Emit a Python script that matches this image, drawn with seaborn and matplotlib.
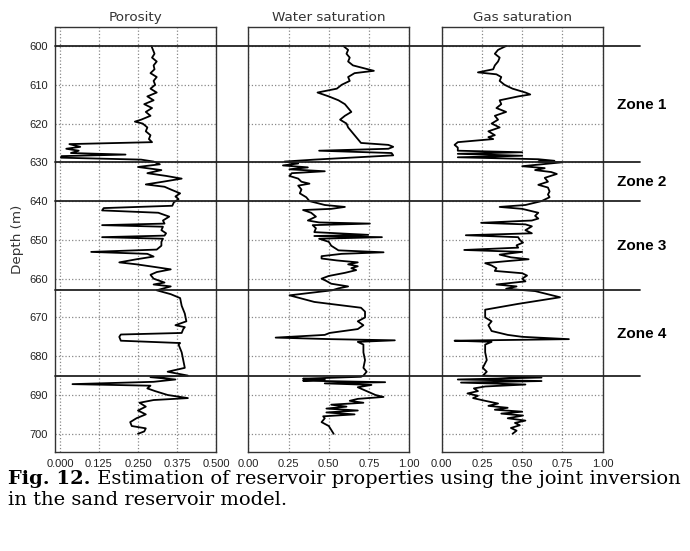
import matplotlib
matplotlib.use("Agg")
import matplotlib.pyplot as plt
import matplotlib.transforms as mtransforms
from matplotlib.lines import Line2D
import numpy as np
import pandas as pd
import seaborn as sns

# porosity log
por_depth = [600, 601, 602, 603, 604, 605, 606, 607, 608, 609, 610, 611, 612, 613, 614, 615, 616, 617, 618, 619,
             619.5, 620, 621, 622, 623, 624, 624.8, 625.3, 626, 626.5, 627, 627.6, 628, 628.4, 628.8, 629.3, 629.8,
             630.5, 631.2, 632, 632.8, 633.5, 634.2, 635, 635.7, 636.3, 637, 638, 638.8, 639.5, 640.3, 641.2, 641.8,
             642.4, 643, 644, 645, 645.8, 646.2, 646.6, 647.5, 648.3, 648.9, 649.3, 649.7, 650.5, 651.5, 652.5,
             653.1, 653.6, 654.3, 655, 655.8, 656.3, 657, 657.6, 658.3, 659, 660, 661, 661.5, 662, 663, 664, 665,
             667, 669, 671, 672, 672.5, 673, 674, 674.4, 675, 676, 676.6, 677, 679, 681, 683, 684, 685, 685.4, 686,
             686.6, 687.2, 687.6, 688.3, 689, 690, 690.8, 691.3, 692, 693, 694, 695, 696, 697, 698, 698.6, 699.4, 700]
por_vals = [0.293, 0.298, 0.303, 0.295, 0.31, 0.30, 0.303, 0.29, 0.31, 0.30, 0.305, 0.29, 0.31, 0.28, 0.30, 0.27,
            0.295, 0.275, 0.29, 0.26, 0.24, 0.265, 0.28, 0.275, 0.29, 0.285, 0.295, 0.03, 0.065, 0.02, 0.06, 0.035,
            0.21, 0.005, 0.003, 0.26, 0.30, 0.32, 0.25, 0.325, 0.28, 0.34, 0.39, 0.33, 0.275, 0.335, 0.355, 0.385,
            0.37, 0.38, 0.365, 0.36, 0.14, 0.135, 0.315, 0.35, 0.33, 0.335, 0.135, 0.33, 0.325, 0.34, 0.335, 0.135,
            0.33, 0.325, 0.325, 0.31, 0.10, 0.28, 0.30, 0.245, 0.19, 0.245, 0.305, 0.355, 0.31, 0.29, 0.30, 0.335,
            0.30, 0.355, 0.31, 0.355, 0.385, 0.39, 0.40, 0.405, 0.37, 0.40, 0.395, 0.39, 0.195, 0.19, 0.195, 0.385,
            0.38, 0.39, 0.395, 0.40, 0.345, 0.41, 0.29, 0.37, 0.30, 0.04, 0.29, 0.28, 0.305, 0.345, 0.41, 0.30,
            0.255, 0.275, 0.25, 0.275, 0.245, 0.225, 0.23, 0.275, 0.27, 0.25]

# water saturation log
sw_depth = [600, 601, 602, 603, 604, 605, 606.4, 607, 608, 609, 610, 611, 612, 613, 614, 615, 616, 617, 618, 619,
            620, 621, 622, 623, 624, 625, 625.5, 626, 626.5, 627, 627.6, 628.2, 629.3, 629.8, 630.3, 630.8, 631.3,
            631.8, 632.3, 632.8, 633.5, 634.2, 635, 635.5, 636, 637, 638, 639, 640, 641, 641.5, 642, 642.3, 643,
            644, 645, 645.5, 645.8, 646.2, 647, 648, 648.7, 649, 649.3, 649.7, 650.5, 651.5, 652.7, 653.2, 653.6,
            654.2, 654.8, 655.3, 655.8, 656.3, 656.8, 657.3, 657.8, 658.5, 659.3, 660, 660.6, 661.3, 662, 662.5,
            663, 664.3, 666, 667.5, 668.5, 670, 671, 672, 673, 674, 674.5, 675.2, 675.6, 675.9, 676.3, 677, 679,
            681, 683, 684, 685, 685.3, 685.8, 686, 686.3, 686.7, 687, 687.4, 688, 689, 690, 690.5, 691, 691.5,
            692, 692.5, 693, 693.5, 694, 694.5, 695, 695.5, 696, 697, 698, 699, 700]
sw_vals = [0.59, 0.62, 0.61, 0.63, 0.62, 0.65, 0.78, 0.66, 0.62, 0.63, 0.58, 0.55, 0.43, 0.50, 0.56, 0.60, 0.62,
           0.64, 0.60, 0.57, 0.61, 0.62, 0.64, 0.66, 0.68, 0.70, 0.87, 0.90, 0.87, 0.44, 0.89, 0.90, 0.41, 0.225,
           0.31, 0.215, 0.37, 0.255, 0.475, 0.27, 0.255, 0.31, 0.33, 0.38, 0.31, 0.33, 0.32, 0.36, 0.38, 0.475,
           0.60, 0.515, 0.34, 0.39, 0.42, 0.37, 0.44, 0.755, 0.40, 0.42, 0.41, 0.745, 0.41, 0.83, 0.44, 0.50,
           0.515, 0.56, 0.84, 0.58, 0.455, 0.455, 0.55, 0.68, 0.62, 0.68, 0.64, 0.67, 0.60, 0.50, 0.455, 0.485,
           0.515, 0.62, 0.56, 0.52, 0.256, 0.41, 0.70, 0.725, 0.725, 0.68, 0.715, 0.68, 0.505, 0.475, 0.17, 0.515,
           0.91, 0.68, 0.715, 0.715, 0.725, 0.715, 0.735, 0.715, 0.70, 0.34, 0.475, 0.34, 0.85, 0.475, 0.765, 0.68,
           0.735, 0.79, 0.84, 0.68, 0.63, 0.715, 0.515, 0.61, 0.485, 0.68, 0.485, 0.66, 0.465, 0.475, 0.455, 0.50,
           0.515, 0.53]

# gas saturation log
sg_depth = [600, 601, 602, 603, 604, 605, 606, 606.8, 607.3, 608, 609, 610, 611, 612, 612.5, 613, 614, 615, 616,
            617, 618, 619, 620, 621, 622, 623, 623.5, 624, 624.8, 625.5, 626.2, 627, 627.4, 627.8, 628.3, 628.7,
            629.2, 629.6, 629.8, 630, 630.5, 631, 631.5, 632, 632.5, 633, 634, 635, 635.8, 636.5, 637.5, 638.3,
            639, 640, 641, 641.5, 642, 642.5, 643, 643.8, 644.5, 645, 645.6, 646, 646.5, 647.5, 648.3, 648.8,
            649.3, 650, 650.7, 651.4, 652, 652.6, 653.1, 653.8, 654.5, 655, 655.5, 656, 656.6, 657.3, 658, 658.6,
            659.2, 660, 660.7, 661.5, 662, 662.6, 663.2, 664.8, 666.5, 668, 670, 671, 672, 673.5, 674.5, 675,
            675.6, 676, 676.3, 677, 679, 681, 683, 684, 685, 685.5, 686, 686.4, 686.8, 687.3, 687.8, 688.3, 689,
            689.6, 690.2, 690.8, 691.5, 692.2, 692.8, 693.3, 693.8, 694.3, 694.8, 695.3, 696, 696.6, 697.2, 697.8,
            698.5, 699.2, 700]
sg_vals = [0.40, 0.35, 0.33, 0.36, 0.35, 0.33, 0.32, 0.225, 0.34, 0.37, 0.36, 0.39, 0.44, 0.52, 0.55, 0.475, 0.36,
           0.37, 0.34, 0.40, 0.33, 0.35, 0.31, 0.36, 0.29, 0.33, 0.29, 0.32, 0.10, 0.08, 0.10, 0.10, 0.50, 0.10,
           0.50, 0.10, 0.60, 0.70, 0.60, 0.745, 0.62, 0.50, 0.64, 0.58, 0.68, 0.715, 0.64, 0.66, 0.60, 0.66, 0.67,
           0.66, 0.67, 0.62, 0.52, 0.36, 0.50, 0.55, 0.60, 0.58, 0.60, 0.56, 0.245, 0.52, 0.56, 0.52, 0.56, 0.15,
           0.475, 0.485, 0.505, 0.465, 0.475, 0.14, 0.50, 0.36, 0.43, 0.54, 0.40, 0.27, 0.31, 0.34, 0.33, 0.50,
           0.53, 0.50, 0.52, 0.34, 0.465, 0.40, 0.58, 0.735, 0.475, 0.27, 0.27, 0.31, 0.29, 0.31, 0.41, 0.50, 0.79,
           0.08, 0.31, 0.27, 0.27, 0.28, 0.255, 0.28, 0.255, 0.62, 0.10, 0.62, 0.12, 0.52, 0.27, 0.20, 0.225,
           0.16, 0.225, 0.195, 0.27, 0.35, 0.29, 0.41, 0.33, 0.50, 0.37, 0.505, 0.41, 0.52, 0.455, 0.485, 0.43,
           0.465, 0.44]

zone_tops = [600, 630, 640, 663, 685]
zone_names = ["Zone 1", "Zone 2", "Zone 3", "Zone 4"]
zone_label_depths = [615.2, 635.1, 651.6, 674.3]

panels = [
    ("Porosity", por_depth, por_vals, (-0.016, 0.5), [0, 0.125, 0.25, 0.375, 0.5], "{:.3f}"),
    ("Water saturation", sw_depth, sw_vals, (0, 1), [0, 0.25, 0.5, 0.75, 1.0], "{:.2f}"),
    ("Gas saturation", sg_depth, sg_vals, (0, 1), [0, 0.25, 0.5, 0.75, 1.0], "{:.2f}"),
]

sns.set_style("white")
plt.rcParams["font.family"] = ["DejaVu Sans"]

fig = plt.figure(figsize=(6.9, 5.51), dpi=100)
W, H = 690.0, 551.0
lefts = [55, 248.3, 441.7]
width = 161
bottom, top = 452, 27

axes = []
for i, (title, dep, vals, xlim, xt, fmt) in enumerate(panels):
    ax = fig.add_axes([lefts[i] / W, 1 - bottom / H, width / W, (bottom - top) / H],
                      sharey=axes[0] if axes else None)
    df = pd.DataFrame({"depth": dep, "value": vals})
    sns.lineplot(data=df, x="value", y="depth", orient="y", sort=False, estimator=None,
                 color="black", lw=1.3, ax=ax)
    ax.set_xlim(*xlim)
    ax.set_xticks(xt)
    ax.set_xticklabels([fmt.format(v) for v in xt], family="Liberation Sans", fontsize=8)
    ax.set_title(title, fontsize=9.7, pad=4, color="#333333")
    ax.set_xlabel("")
    ax.set_ylabel("")
    ax.grid(True, linestyle=":", color="#888888", lw=0.9)
    ax.tick_params(axis="both", length=3, width=0.8, colors="#222222", pad=2)
    for s in ax.spines.values():
        s.set_color("#333333")
        s.set_linewidth(1.0)
    if i > 0:
        plt.setp(ax.get_yticklabels(), visible=False)
    axes.append(ax)

ax0 = axes[0]
ax0.set_ylim(704.7, 595.1)
ax0.set_yticks(np.arange(600, 701, 10))
ax0.set_yticklabels([str(v) for v in range(600, 701, 10)], family="Liberation Sans", fontsize=8)
ax0.set_ylabel("Depth (m)", fontsize=9.7, color="#333333", labelpad=4)

# zone boundaries crossing all tracks
tr = mtransforms.blended_transform_factory(fig.transFigure, ax0.transData)
for d in zone_tops:
    fig.add_artist(Line2D([55 / W, 640 / W], [d, d], transform=tr, color="#222222", lw=1.3))

for name, d in zip(zone_names, zone_label_depths):
    fig.text(642 / W, d, name, transform=tr, ha="center", va="center",
             family="Liberation Sans", weight="bold", fontsize=11, color="black")

# caption
cap_font = "DejaVu Serif"
cap_size = 14.0
t1 = fig.text(8 / W, 1 - 484 / H, "Fig. 12.", family=cap_font, weight="bold", fontsize=cap_size,
              ha="left", va="baseline", color="black")
fig.canvas.draw()
bb = t1.get_window_extent()
fig.text(bb.x1 / W, 1 - 484 / H, " Estimation of reservoir properties using the joint inversion",
         family=cap_font, fontsize=cap_size, ha="left", va="baseline", color="black")
fig.text(8 / W, 1 - 505 / H, "in the sand reservoir model.", family=cap_font, fontsize=cap_size,
         ha="left", va="baseline", color="black")

fig.savefig("out.png", dpi=100)
